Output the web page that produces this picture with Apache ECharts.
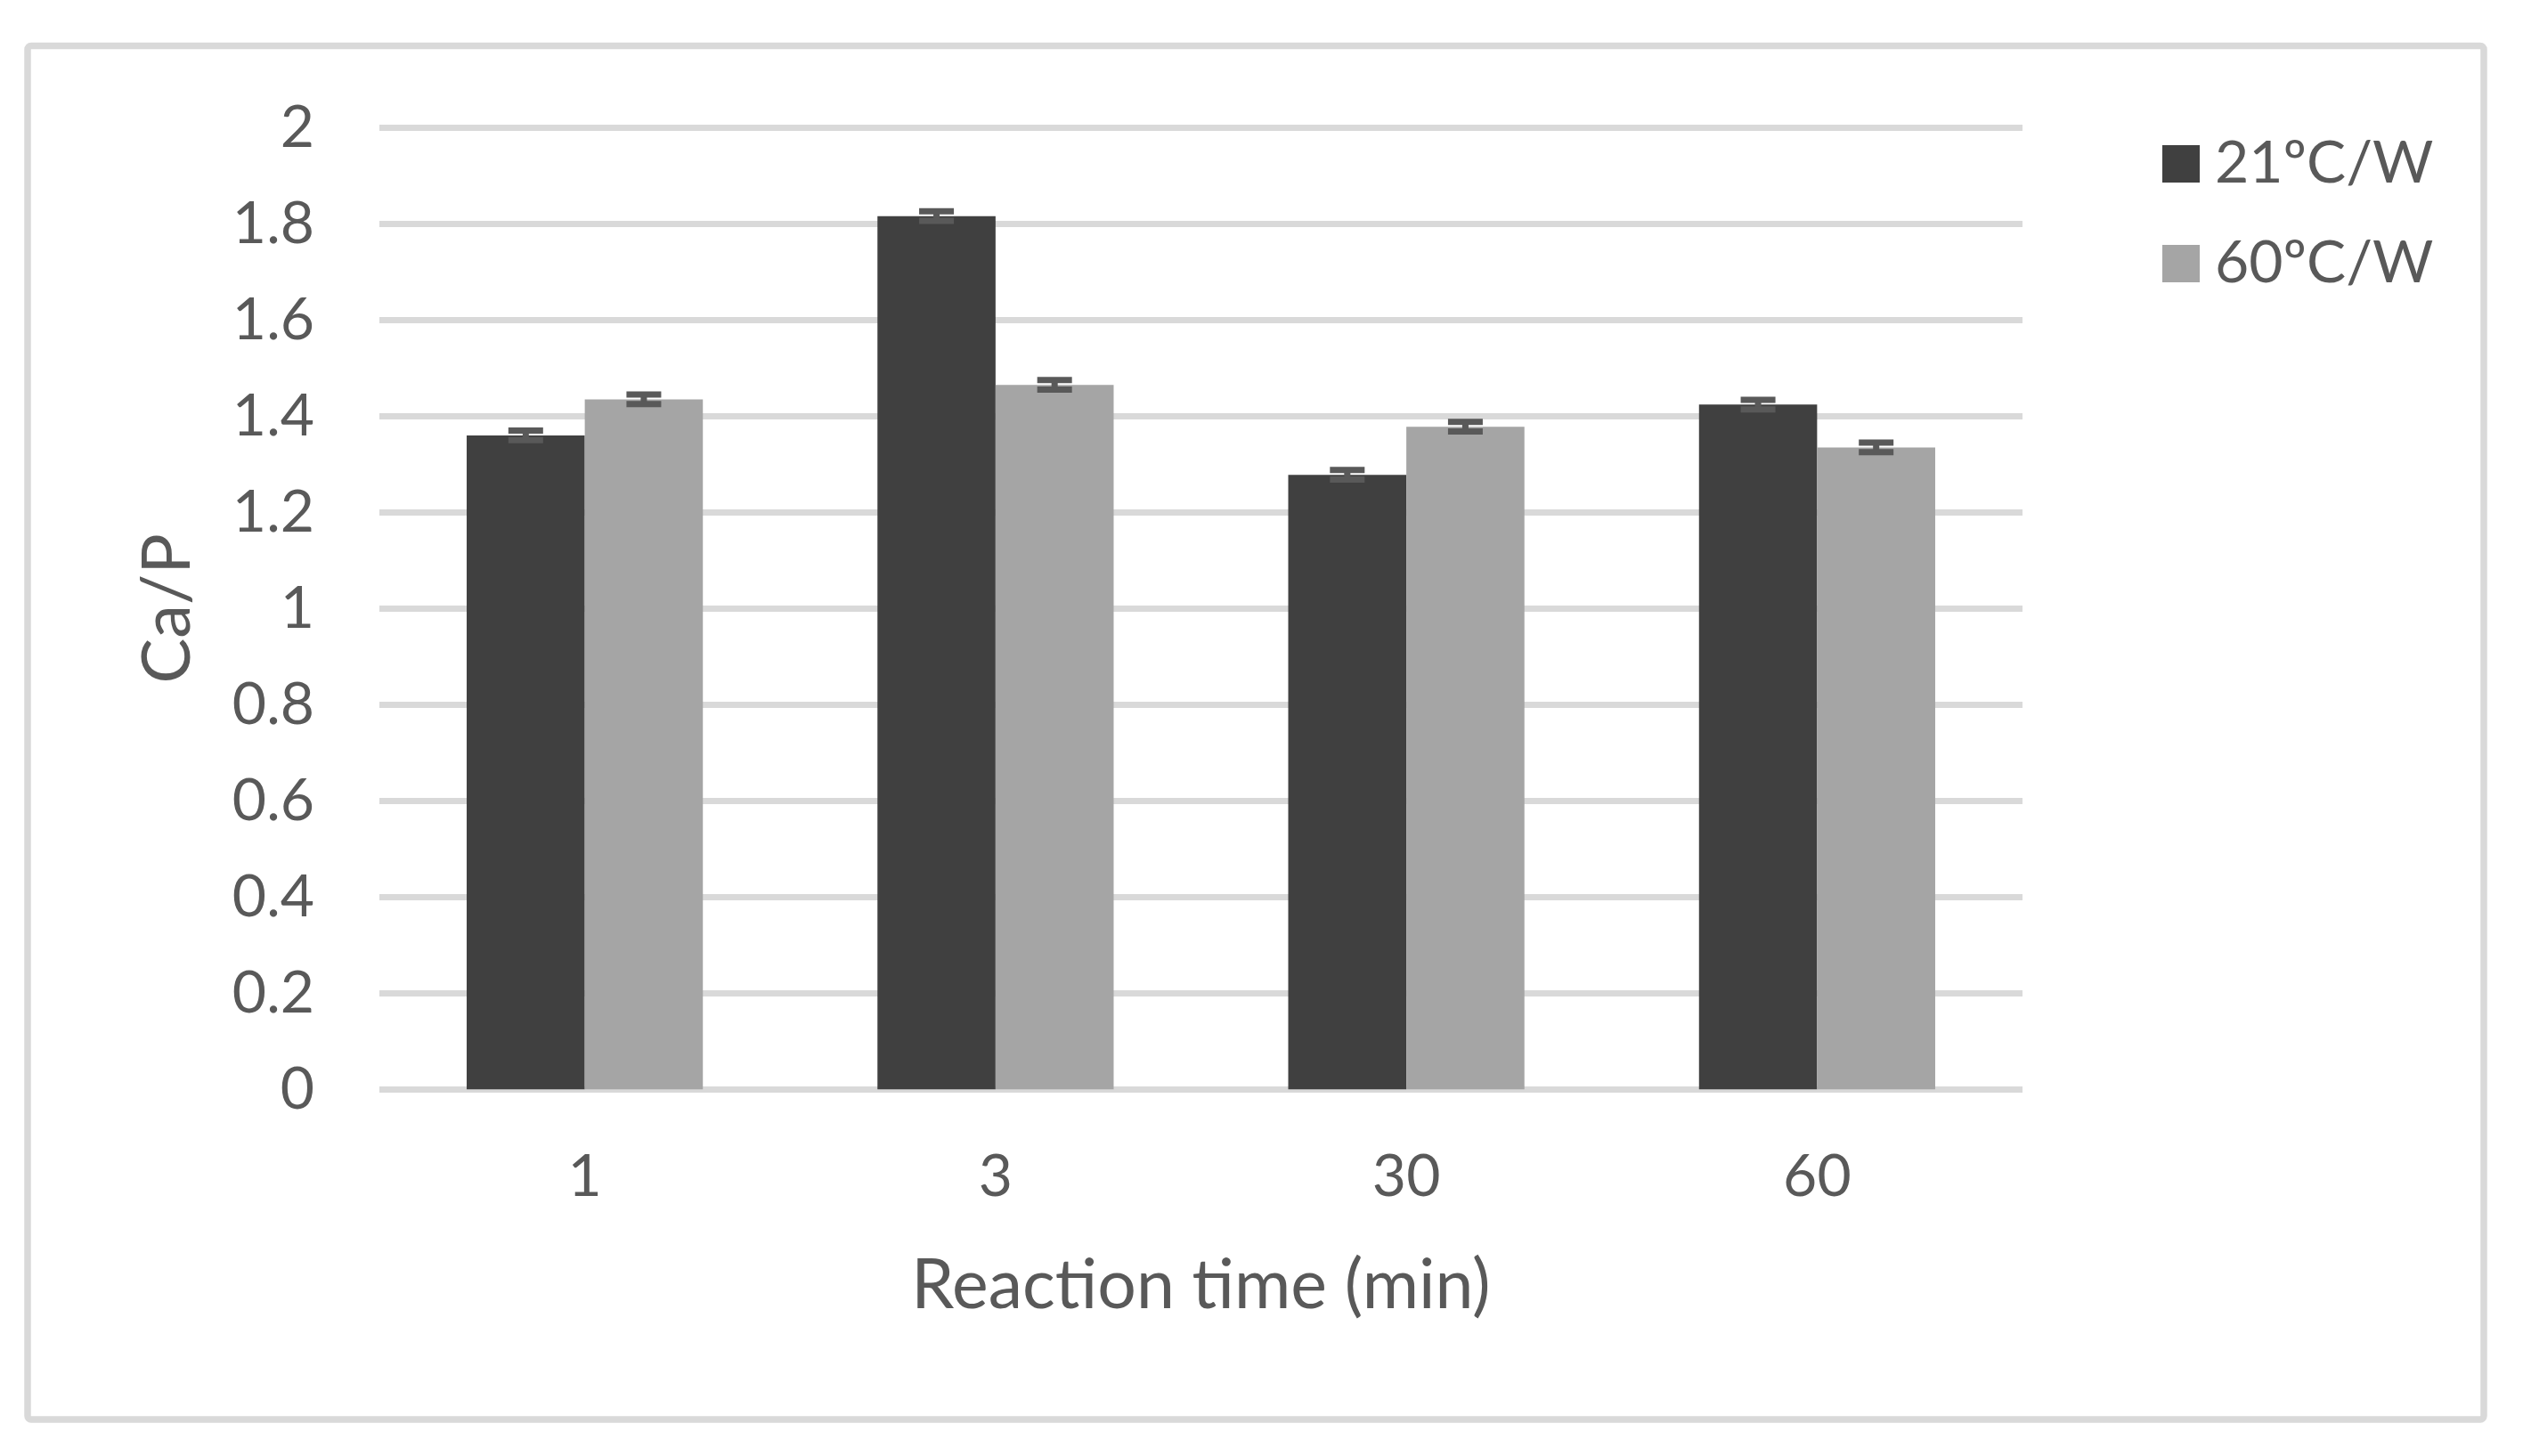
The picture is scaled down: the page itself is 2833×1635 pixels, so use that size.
<!DOCTYPE html>
<html>
<head>
<meta charset="utf-8">
<script src="https://cdn.jsdelivr.net/npm/echarts@6/dist/echarts.min.js"></script>
<style>
html,body{margin:0;padding:0;background:#fff;}
#chart{width:2833px;height:1635px;}
</style>
</head>
<body>
<div id="chart"></div>
<script>
const categories = ['1', '3', '30', '60'];
const seriesNames = ['21ºC/W', '60ºC/W'];
const values21 = [1.36, 1.816, 1.278, 1.424];
const values60 = [1.435, 1.465, 1.378, 1.335];
const err21 = [0.01, 0.01, 0.01, 0.01];
const err60 = [0.01, 0.01, 0.01, 0.01];
const yTicks = { min: 0, max: 2, interval: 0.2 };

const FONT = 'Lato';
const TEXT = '#595959';
const CAT_GAP = 0.425;

function errData(vals, errs, sign) {
  return vals.map((v, i) => [i, v, errs[i], sign]);
}

function renderErr(params, api) {
  const idx = api.value(0);
  const v = api.value(1);
  const e = api.value(2);
  const sign = api.value(3);
  const catW = api.size([1, 0])[0];
  const barW = catW * (1 - CAT_GAP) / 2;
  const c = api.coord([idx, v]);
  const x = c[0] + sign * barW / 2;
  const yHi = api.coord([idx, v + e])[1];
  const yLo = api.coord([idx, v - e])[1];
  const half = 19.5;
  const st = { stroke: '#595959', lineWidth: 7 };
  return {
    type: 'group',
    children: [
      { type: 'line', shape: { x1: x, y1: yHi, x2: x, y2: yLo }, style: st },
      { type: 'line', shape: { x1: x - half, y1: yHi, x2: x + half, y2: yHi }, style: st },
      { type: 'line', shape: { x1: x - half, y1: yLo, x2: x + half, y2: yLo }, style: st }
    ]
  };
}

const chart = echarts.init(document.getElementById('chart'));
chart.setOption({
  backgroundColor: '#fff',
  animation: false,
  textStyle: { fontFamily: FONT, color: TEXT },
  graphic: [{
    type: 'rect',
    shape: { x: 31, y: 51.5, width: 2758, height: 1542.5, r: 4 },
    style: { fill: 'none', stroke: '#d9d9d9', lineWidth: 7.5 },
    z: -10
  }],
  grid: { left: 426, right: 562, top: 143.3, bottom: 411.7, containLabel: false },
  legend: {
    orient: 'vertical',
    left: 2423,
    top: 146,
    itemWidth: 42,
    itemHeight: 42,
    itemGap: 46,
    icon: 'rect',
    data: seriesNames,
    textStyle: { fontFamily: FONT, fontSize: 66, color: TEXT, padding: [0, 0, 0, 12] }
  },
  xAxis: {
    type: 'category',
    data: categories,
    axisLine: { show: false },
    axisTick: { show: false },
    axisLabel: { fontFamily: FONT, fontSize: 66, color: TEXT, margin: 65 },
    name: 'Reaction time (min)',
    nameLocation: 'middle',
    nameGap: 182,
    nameTextStyle: { fontFamily: FONT, fontSize: 77, color: TEXT }
  },
  yAxis: {
    type: 'value',
    min: yTicks.min,
    max: yTicks.max,
    interval: yTicks.interval,
    axisLine: { show: false },
    axisTick: { show: false },
    splitLine: { lineStyle: { color: '#d9d9d9', width: 7 } },
    axisLabel: { fontFamily: FONT, fontSize: 66, color: TEXT, margin: 73 },
    name: 'Ca/P',
    nameLocation: 'middle',
    nameGap: 200,
    nameTextStyle: { fontFamily: FONT, fontSize: 76, color: TEXT }
  },
  series: [
    {
      name: seriesNames[0], type: 'bar', data: values21,
      barGap: '0%', barCategoryGap: (CAT_GAP * 100) + '%',
      itemStyle: { color: '#404040' }
    },
    {
      name: seriesNames[1], type: 'bar', data: values60,
      barGap: '0%', barCategoryGap: (CAT_GAP * 100) + '%',
      itemStyle: { color: '#a5a5a5' }
    },
    {
      type: 'custom', renderItem: renderErr, data: errData(values21, err21, -1),
      z: 5, silent: true
    },
    {
      type: 'custom', renderItem: renderErr, data: errData(values60, err60, 1),
      z: 5, silent: true
    }
  ]
});
</script>
</body>
</html>
